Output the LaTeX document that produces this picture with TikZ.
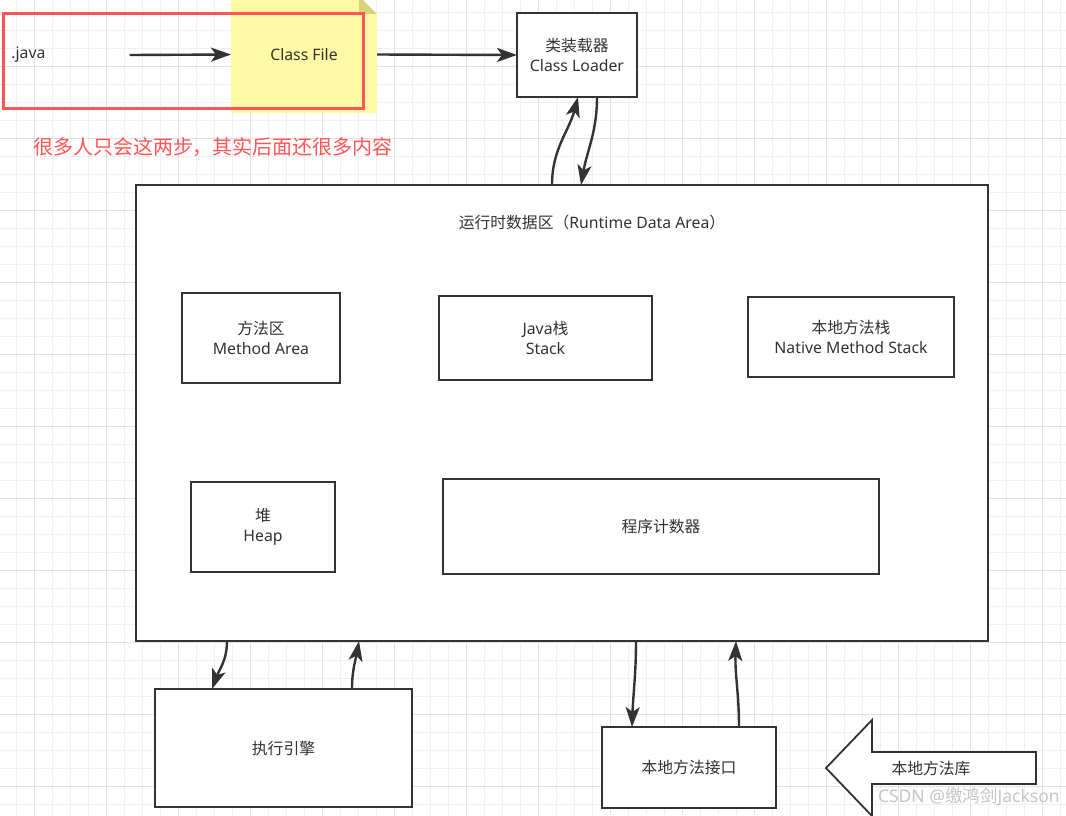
\documentclass[tikz,border=0pt]{standalone}
\usepackage{fontspec}
\setmainfont{Noto Sans}
\newfontfamily\cjk{Noto Sans CJK SC}
\usepackage{tikz}
\usetikzlibrary{positioning,arrows.meta,backgrounds}
\usepackage{xcolor}
\definecolor{ink}{HTML}{333333}
\definecolor{hired}{HTML}{FF5555}
\definecolor{notey}{HTML}{FFF9A6}
\definecolor{foldy}{HTML}{D8D27C}
\definecolor{gridlo}{HTML}{F0F0F0}
\definecolor{gridhi}{HTML}{E2E2E2}

\begin{document}
\begin{tikzpicture}[x=1pt, y=-1pt,
    every node/.style={font=\fontsize{15.8}{20}\selectfont, text=ink, outer sep=0pt},
    block/.style={rectangle, draw=ink, line width=1.8pt, fill=white, align=center},
    note/.style={minimum width=146, minimum height=117},
    flow/.style={draw=ink, line width=2.4pt, -{Stealth[length=20pt,width=14pt,inset=5pt]}}]

\useasboundingbox (0,0) rectangle (1066,815);
\begin{scope}[on background layer]
  \fill[white] (0,0) rectangle (1066,815);
  \draw[gridlo, line width=0.8pt, shift={(16,12)}, step=18pt] (-16,-12) grid (1050,803);
  \draw[gridhi, line width=0.8pt, shift={(34,66)}, step=72pt] (-34,-66) grid (1032,749);
\end{scope}

% compile steps
\node[anchor=west] (java) at (8,55) {.java};
\node[note] (CF) at (304,54.5) {Class File};
\begin{scope}[on background layer]
  \fill[notey] (CF.south west) -- (CF.north west) -- ([xshift=-18pt]CF.north east)
    -- ([yshift=-18pt]CF.north east) -- (CF.south east) -- cycle;
  \fill[foldy] ([xshift=-18pt]CF.north east) -- ([xshift=-18pt,yshift=-18pt]CF.north east)
    -- ([yshift=-18pt]CF.north east) -- cycle;
\end{scope}
\node[block, minimum width=120, minimum height=84] (CL) at (577,55) {{\cjk 类装载器}\\Class Loader};
\node[draw=hired, line width=3pt, minimum width=360, minimum height=95] (hl) at (183,60.5) {};
\node[text=hired, font=\cjk\fontsize{20}{22}\selectfont] (remark) at (213,147) {很多人只会这两步，其实后面还很多内容};

% runtime data area
\node[block, minimum width=852, minimum height=456] (RDA) at (562,413) {};
\node (title) at (592,222) {{\cjk 运行时数据区（}Runtime Data Area{\cjk ）}};
\node[block, minimum width=158, minimum height=90] (MA) at (261,338) {{\cjk 方法区}\\Method Area};
\node[block, minimum width=213, minimum height=84] (JS) at (545.5,338) {Java{\cjk 栈}\\Stack};
\node[block, minimum width=206, minimum height=80] (NMS) at (851,337) {{\cjk 本地方法栈}\\Native Method Stack};
\node[block, minimum width=144, minimum height=90] (H) at (263,527) {{\cjk 堆}\\Heap};
\node[block, minimum width=436, minimum height=95, font=\cjk\fontsize{15.8}{20}\selectfont] (PC) at (661,526.5) {程序计数器};

\node[block, minimum width=257, minimum height=118, font=\cjk\fontsize{15.8}{20}\selectfont] (EE) at (283.5,748) {执行引擎};
\node[block, minimum width=174, minimum height=81, font=\cjk\fontsize{15.8}{20}\selectfont] (NI) at (689,767.5) {本地方法接口};

% native library arrow
\draw[ink, line width=1.8pt, fill=white] (826,768) -- (872,720) -- (872,752) -- (1036,752)
  -- (1036,784) -- (872,784) -- (872,816) -- cycle;
\node[font=\cjk\fontsize{15.8}{20}\selectfont] (lib) at (931,768) {本地方法库};

\draw[flow] ([xshift=81pt]java.east) -- (CF.west);
\draw[flow] (CF.east) -- (CL.west);
\draw[flow] ([xshift=-10pt]RDA.north) to[out=90, in=-105] ([xshift=1pt]CL.south);
\draw[flow] ([xshift=20pt]CL.south) to[out=-90, in=80] ([xshift=19pt]RDA.north);
\draw[flow] ([xshift=-335pt]RDA.south) to[out=-90, in=70] ([xshift=-71.5pt]EE.north);
\draw[flow] ([xshift=68.5pt]EE.north) to[out=90, in=-100] ([xshift=-203pt]RDA.south);
\draw[flow] ([xshift=74pt]RDA.south) to[out=-90, in=88] ([xshift=-57pt]NI.north);
\draw[flow] ([xshift=50pt]NI.north) to[out=90, in=-92] ([xshift=174pt]RDA.south);

\node[anchor=east, text=gray!45, font=\fontsize{17.5}{20}\selectfont] (mark) at (1063,797) {CSDN @{\cjk 缴鸿剑}Jackson};
\end{tikzpicture}
\end{document}
